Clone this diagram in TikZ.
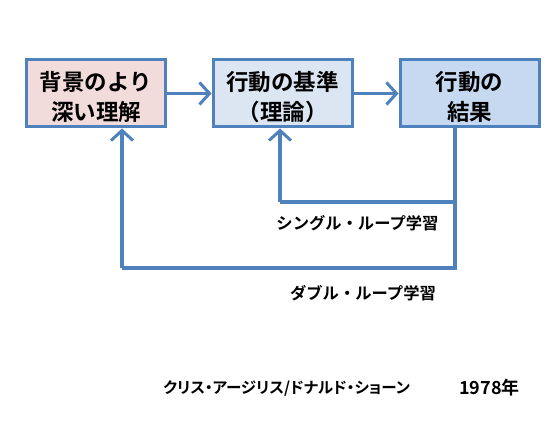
\documentclass[tikz,border=0pt]{standalone}
\usepackage{fontspec}
\setmainfont{Noto Sans CJK JP}[BoldFont={* Bold}]
\newfontfamily\jpb{Noto Sans CJK JP Bold}
\newfontfamily\jpbp{Noto Sans CJK JP Bold}[RawFeature=+palt]
\usetikzlibrary{arrows.meta}
\definecolor{bord}{HTML}{4F81BD}
\definecolor{fpink}{HTML}{F2DCDB}
\definecolor{flblue}{HTML}{DCE6F2}
\definecolor{fblue}{HTML}{C6D9F1}
\begin{document}
\begin{tikzpicture}[x=1pt,y=-1pt,
  box/.style={draw=bord,line width=3pt,minimum width=139pt,minimum height=67pt,inner sep=0pt},
  boxtext/.style={align=center,inner sep=0pt,font=\jpb\fontsize{22.5}{30}\selectfont},
  conn/.style={draw=bord,line width=3.5pt,-{Straight Barb[length=10pt,width=22pt,line width=3pt]}},
  loopline/.style={draw=bord,line width=3.5pt},
  lbl/.style={font=\jpb\fontsize{16.3}{19}\selectfont,inner sep=0pt}]
\useasboundingbox[fill=white] (0,0) rectangle (560,422);
\node[box,fill=fpink] (b1) at (96,93.5) {};
\node[box,fill=flblue] (b2) at (282.5,93.5) {};
\node[box,fill=fblue] (b3) at (469.5,93.5) {};
\node[boxtext] (t1) at ([yshift=-3.5pt]b1.center) {背景のより\\深い理解};
\node[boxtext] (t2) at ([yshift=-3.5pt]b2.center) {行動の基準\\（理論）};
\node[boxtext] (t3) at ([yshift=-3.5pt]b3.center) {行動の\\結果};
\draw[conn] (b1) -- (b2);
\draw[conn] (b2) -- (b3);
\coordinate (c1) at (455,128);
\coordinate (c2) at (455,268);
\coordinate (s1) at (455,202);
\coordinate (s2) at (280,202);
\coordinate (d2) at (122,268);
\draw[loopline] (c1) -- (c2) -- (d2);
\draw[conn] (d2) -- (d2 |- b1.south);
\draw[loopline] (s1) -- (s2);
\draw[conn] (s2) -- (s2 |- b2.south);
\node[lbl] (l1) at (357.5,223) {シングル・ループ学習};
\node[lbl] (l2) at (363,293) {ダブル・ループ学習};
\node[lbl,font=\jpbp\fontsize{15.5}{19}\selectfont,anchor=west] (l3) at (163,388) {クリス・アージリス/ドナルド・ショーン};
\node[lbl,font=\jpbp\fontsize{18}{21}\selectfont,anchor=east] (l4) at (520,388) {1978年};
\end{tikzpicture}
\end{document}
